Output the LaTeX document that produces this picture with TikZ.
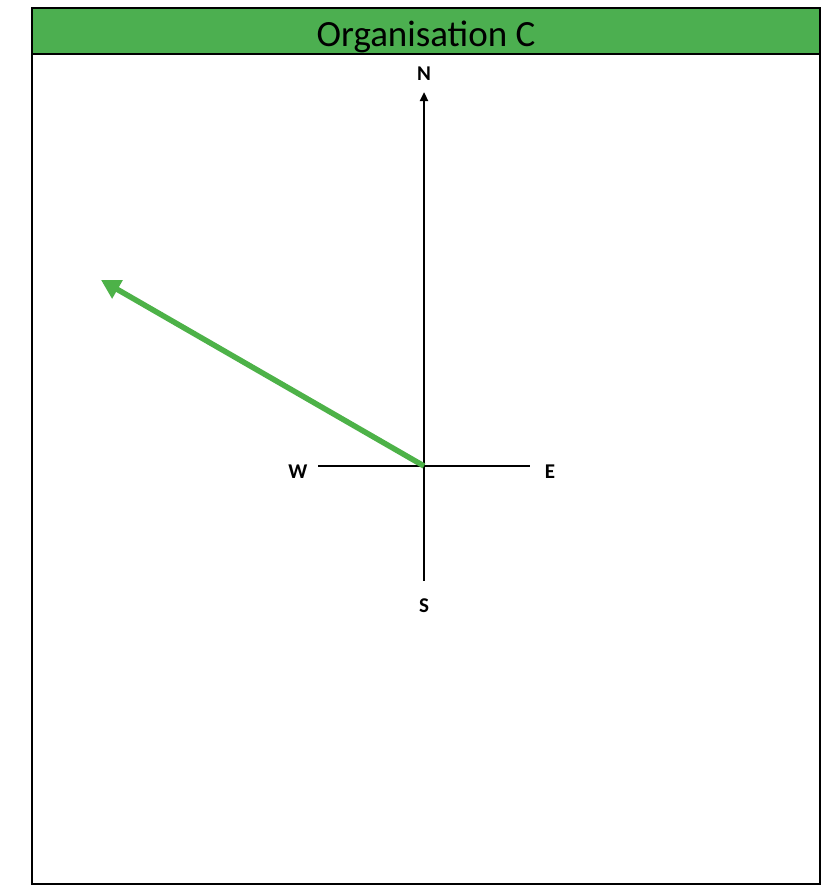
\documentclass[tikz,border=0pt]{standalone}
\usepackage{fontspec}
\setmainfont{Carlito}
\usetikzlibrary{arrows.meta}
\definecolor{hdrgreen}{RGB}{76,175,80}
\definecolor{arrgreen}{RGB}{77,178,72}
\tikzset{
  axis/.style={line width=2.8pt, black},
  dirlabel/.style={font=\bfseries\fontsize{21}{24}\selectfont, inner sep=0pt},
  vec/.style={line width=5.5pt, arrgreen, -{Triangle[length=19pt,width=20pt]}},
}
\begin{document}
\begin{tikzpicture}[x=1pt,y=-1pt]
\useasboundingbox (0,0) rectangle (835,886);
% frame and header
\draw[line width=2pt, fill=white] (32,8) rectangle (820,884);
\draw[line width=2pt, fill=hdrgreen] (32,8) rectangle (820,54);
\node[font=\fontsize{37}{42}\selectfont, inner sep=0pt, anchor=base] (title) at (426,46.5) {Organisation C};
% compass
\coordinate (c) at (424,466);
\coordinate (ntip) at (424,92);
\coordinate (send) at (424,581);
\coordinate (wend) at (318,466);
\coordinate (eend) at (530,466);
\node[dirlabel] (N) at (424,74) {N};
\node[dirlabel] (S) at (424,606) {S};
\node[dirlabel] (W) at (298,472) {W};
\node[dirlabel] (E) at (550,472) {E};
\draw[axis, -{Triangle[length=9pt,width=8pt]}] (c) -- (ntip);
\draw[axis] (c) -- (send);
\draw[axis] (c) -- (wend);
\draw[axis] (c) -- (eend);
% vector
\coordinate (vtip) at (101,280);
\draw[vec] (c) -- (vtip);
\end{tikzpicture}
\end{document}
